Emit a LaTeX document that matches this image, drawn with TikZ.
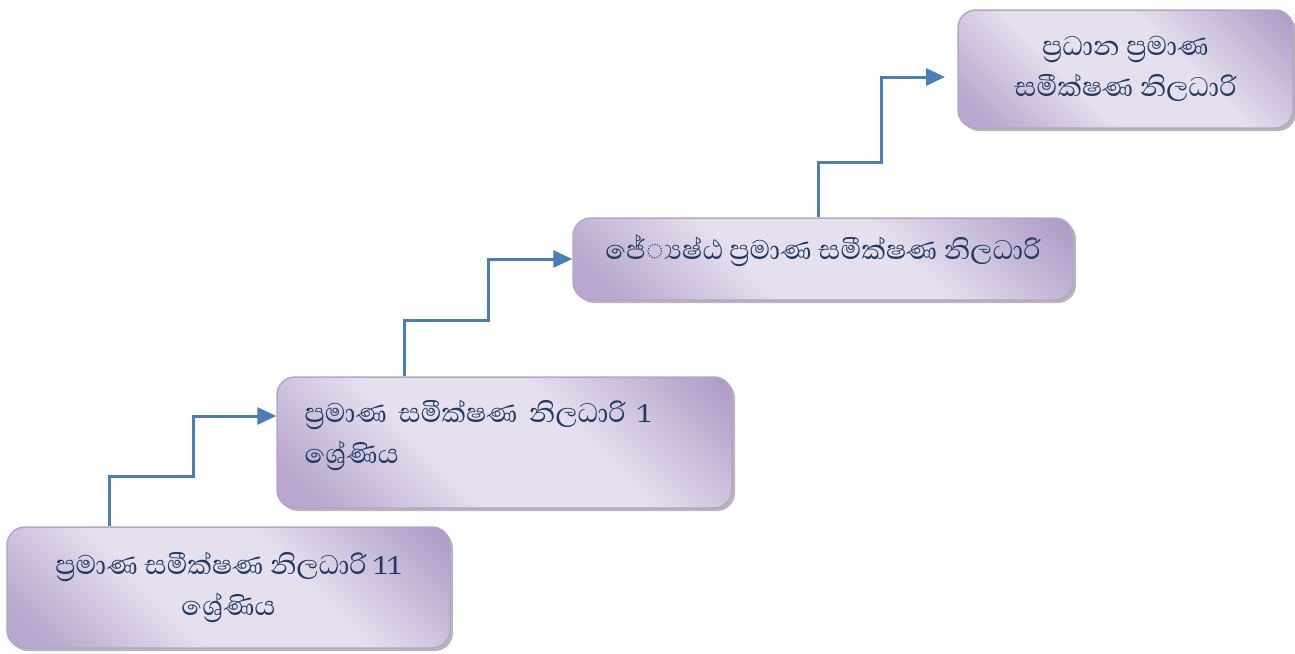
\documentclass[tikz,border=0pt]{standalone}
\usepackage{fontspec}
\newfontfamily\sinhala[Script=Sinhala]{Abhaya Libre}
\usetikzlibrary{shadows,arrows.meta}

\definecolor{boxdark}{HTML}{AE9CC6}
\definecolor{boxdarkb}{HTML}{B8A8CD}
\definecolor{boxlight}{HTML}{E6DFEE}
\definecolor{boxline}{HTML}{B4A5CA}
\definecolor{arrowblue}{HTML}{4A7EBB}
\definecolor{textnavy}{HTML}{1F3B64}

% diagonal band: darker corners, light middle
\pgfdeclarehorizontalshading{stepshade}{100bp}{color(0bp)=(boxdarkb); color(20bp)=(boxdarkb); color(40bp)=(boxlight); color(60bp)=(boxlight); color(84bp)=(boxdark); color(100bp)=(boxdark)}

\begin{document}
\begin{tikzpicture}[x=1pt,y=-1pt,
  rankbox/.style={draw=boxline, line width=1.5pt, rounded corners=18pt,
    shading=stepshade, shading angle=45,
    drop shadow={shadow xshift=3pt, shadow yshift=-3pt, fill=black!40, opacity=0.7},
    font=\sinhala\fontsize{34.5}{41}\selectfont, text=textnavy,
    inner sep=0pt, align=center},
  stair/.style={draw=arrowblue, line width=3pt, line join=miter,
    -{Triangle[length=19pt,width=17pt]}}]

\useasboundingbox (0,0) rectangle (1295,653);

% ranks, lowest to highest
\node[rankbox, minimum width=443pt, minimum height=121pt] (A) at (228.5,587.5)
  {ප්‍රමාණ සමීක්ෂණ නිලධාරි 11\\ශ්‍රේණිය};
\node[rankbox, minimum width=455pt, minimum height=131pt, text width=400pt, align=left] (B) at (504.5,442.5)
  {ප්‍රමාණ සමීක්ෂණ නිලධාරි 1\\ශ්‍රේණිය\\[-31pt]\strut};
\node[rankbox, minimum width=500pt, minimum height=82pt] (C) at (823,259)
  {ජේ්‍යෂ්ඨ ප්‍රමාණ සමීක්ෂණ නිලධාරි\\[-30pt]\strut};
\node[rankbox, minimum width=335pt, minimum height=118pt] (D) at (1125.5,69)
  {ප්‍රධාන ප්‍රමාණ\\සමීක්ෂණ නිලධාරි};

\coordinate (tipD) at (945,77);

% step connectors
\draw[stair] (A.north -| 109,0) -- (109,476) -- (193,476) -- (193,416) -- (B.west |- 0,416);
\draw[stair] (B.north -| 404,0) -- (404,320) -- (488,320) -- (488,259) -- (C.west |- 0,259);
\draw[stair] (C.north -| 818,0) -- (818,162) -- (881,162) -- (881,77) -- (tipD);
\end{tikzpicture}
\end{document}
